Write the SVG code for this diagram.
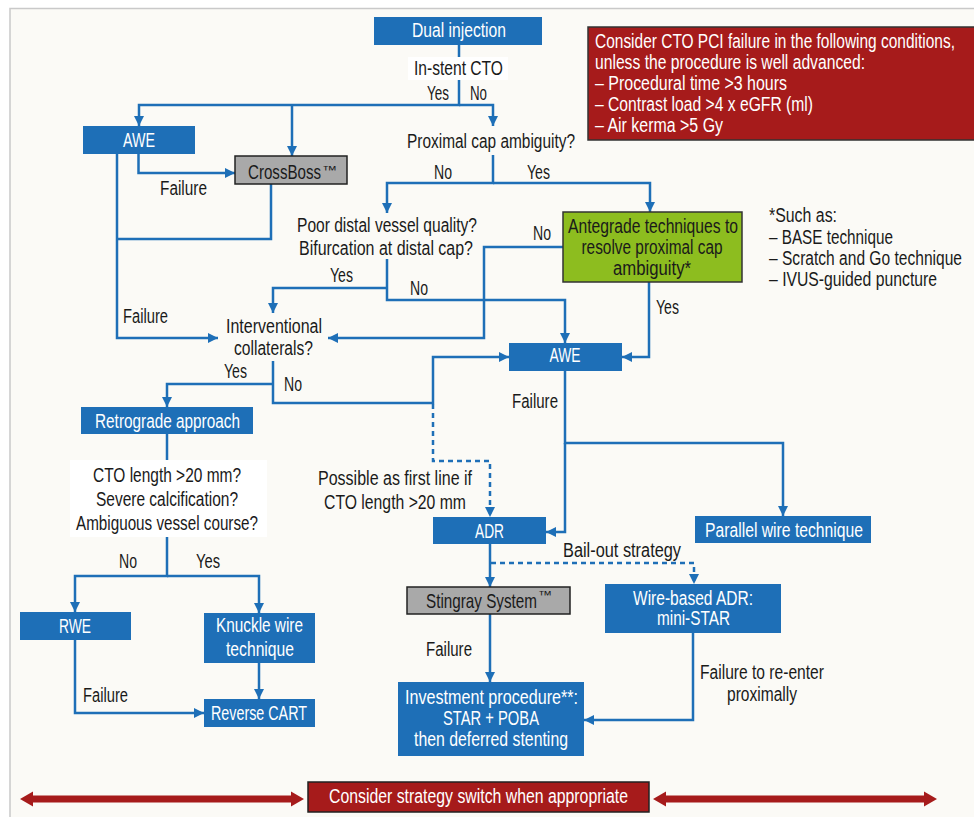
<svg xmlns="http://www.w3.org/2000/svg" width="974" height="817" viewBox="0 0 974 817">
<defs>
<style>
text{font-family:"Liberation Sans",Arial,sans-serif;font-size:20px;fill:#1a1a1a}
.w{fill:#fff}
.c{text-anchor:middle}
.blue{fill:#1e6fb7}
.gray{fill:#a9a9a9;stroke:#222;stroke-width:1.5}
.con path{fill:none;stroke:#1e6fb7;stroke-width:2.5}
.con path.d{stroke-dasharray:5,4}
.tm{font-size:12px}
</style>
<marker id="ah" viewBox="0 0 10 10" refX="10" refY="5" markerWidth="10" markerHeight="10" markerUnits="userSpaceOnUse" orient="auto">
<path d="M0,0 L10,5 L0,10 z" fill="#1e6fb7"/>
</marker>
</defs>
<rect x="0" y="0" width="974" height="817" fill="#fff"/>
<rect x="10" y="8.5" width="990" height="830" fill="#fbfaf6" stroke="#c9c9c9" stroke-width="1.5"/>

<g id="connectors" class="con">
<path d="M459,45 V57"/>
<path d="M459,80 V105 H139 V126" marker-end="url(#ah)"/>
<path d="M459,105 H493 V126" marker-end="url(#ah)"/>
<path d="M292,105 V156" marker-end="url(#ah)"/>
<path d="M138.5,154 V173 H235" marker-end="url(#ah)"/>
<path d="M117,154 V338 H218" marker-end="url(#ah)"/>
<path d="M271,184 V239 H117"/>
<path d="M493,155 V183 H387 V213" marker-end="url(#ah)"/>
<path d="M493,183 H650 V212" marker-end="url(#ah)"/>
<path d="M563,247 H484 V338 H328" marker-end="url(#ah)"/>
<path d="M649,282 V357 H622" marker-end="url(#ah)"/>
<path d="M387,259 V300 H565 V343" marker-end="url(#ah)"/>
<path d="M387,288 H273 V313" marker-end="url(#ah)"/>
<path d="M273,361 V403 H433 V357 H509" marker-end="url(#ah)"/>
<path d="M273,384 H167 V407" marker-end="url(#ah)"/>
<path class="d" d="M433,404 V461 H490 V517" marker-end="url(#ah)"/>
<path d="M565,371 V443 H783 V516" marker-end="url(#ah)"/>
<path d="M565,443 V532 H546" marker-end="url(#ah)"/>
<path d="M490,544 V587" marker-end="url(#ah)"/>
<path class="d" d="M491,563 H694 V584" marker-end="url(#ah)"/>
<path d="M490,614 V682" marker-end="url(#ah)"/>
<path d="M693,633 V720 H584" marker-end="url(#ah)"/>
<path d="M167,434 V460"/>
<path d="M167,537 V576 H75 V612" marker-end="url(#ah)"/>
<path d="M167,576 H259 V613" marker-end="url(#ah)"/>
<path d="M259,663 V699" marker-end="url(#ah)"/>
<path d="M75,640 V713 H204" marker-end="url(#ah)"/>
</g>

<g id="labels">
<text x="427" y="100" textLength="22" lengthAdjust="spacingAndGlyphs">Yes</text>
<text x="470" y="100" textLength="17" lengthAdjust="spacingAndGlyphs">No</text>
<text x="160" y="195" textLength="47" lengthAdjust="spacingAndGlyphs">Failure</text>
<text x="434" y="179" textLength="18" lengthAdjust="spacingAndGlyphs">No</text>
<text x="527" y="179" textLength="23" lengthAdjust="spacingAndGlyphs">Yes</text>
<text x="533" y="240" textLength="18" lengthAdjust="spacingAndGlyphs">No</text>
<text x="656" y="314" textLength="23" lengthAdjust="spacingAndGlyphs">Yes</text>
<text x="330" y="282" textLength="23" lengthAdjust="spacingAndGlyphs">Yes</text>
<text x="410" y="295" textLength="18" lengthAdjust="spacingAndGlyphs">No</text>
<text x="123" y="323" textLength="45" lengthAdjust="spacingAndGlyphs">Failure</text>
<text x="224" y="378" textLength="23" lengthAdjust="spacingAndGlyphs">Yes</text>
<text x="284" y="391" textLength="18" lengthAdjust="spacingAndGlyphs">No</text>
<text x="512" y="408" textLength="46" lengthAdjust="spacingAndGlyphs">Failure</text>
<text x="119" y="568" textLength="18" lengthAdjust="spacingAndGlyphs">No</text>
<text x="196" y="568" textLength="24" lengthAdjust="spacingAndGlyphs">Yes</text>
<text x="83" y="702" textLength="45" lengthAdjust="spacingAndGlyphs">Failure</text>
<text class="c" x="395" y="485" textLength="154" lengthAdjust="spacingAndGlyphs">Possible as first line if</text>
<text class="c" x="395" y="509" textLength="142" lengthAdjust="spacingAndGlyphs">CTO length &gt;20 mm</text>
<text x="563" y="557" textLength="118" lengthAdjust="spacingAndGlyphs">Bail-out strategy</text>
<text x="426" y="656" textLength="46" lengthAdjust="spacingAndGlyphs">Failure</text>
<text class="c" x="762" y="679" textLength="124" lengthAdjust="spacingAndGlyphs">Failure to re-enter</text>
<text class="c" x="762" y="701" textLength="70" lengthAdjust="spacingAndGlyphs">proximally</text>
</g>

<g id="dual-injection">
<rect class="blue" x="374" y="17" width="168" height="28"/>
<text class="w c" x="459" y="37" textLength="94" lengthAdjust="spacingAndGlyphs">Dual injection</text>
</g>
<g id="in-stent-cto">
<rect x="408" y="57" width="100" height="23" fill="#fff"/>
<text class="c" x="458.5" y="75" textLength="89" lengthAdjust="spacingAndGlyphs">In-stent CTO</text>
</g>
<g id="failure-conditions">
<rect x="588" y="27" width="400" height="113" fill="#a61b1b" stroke="#333" stroke-width="1.5"/>
<text class="w" transform="translate(595,48) scale(0.77,1)" x="0" y="0" textLength="467.5" lengthAdjust="spacingAndGlyphs">Consider CTO PCI failure in the following conditions,</text>
<text class="w" x="595" y="69" textLength="270" lengthAdjust="spacingAndGlyphs">unless the procedure is well advanced:</text>
<text class="w" x="595" y="90" textLength="192" lengthAdjust="spacingAndGlyphs">– Procedural time &gt;3 hours</text>
<text class="w" x="595" y="111" textLength="218" lengthAdjust="spacingAndGlyphs">– Contrast load &gt;4 x eGFR (ml)</text>
<text class="w" x="595" y="132" textLength="128" lengthAdjust="spacingAndGlyphs">– Air kerma &gt;5 Gy</text>
</g>
<g id="awe-1">
<rect class="blue" x="83" y="126" width="112" height="28"/>
<text class="w c" x="139" y="146.5" textLength="32" lengthAdjust="spacingAndGlyphs">AWE</text>
</g>
<g id="crossboss">
<rect class="gray" x="235" y="156" width="112" height="28"/>
<text transform="translate(248,179) scale(0.72,1)" x="0" y="0" textLength="101.4" lengthAdjust="spacingAndGlyphs">CrossBoss</text>
<text class="tm" x="322" y="174" textLength="15" lengthAdjust="spacingAndGlyphs">™</text>
</g>
<g id="proximal-cap">
<text class="c" x="491" y="147.5" textLength="168" lengthAdjust="spacingAndGlyphs">Proximal cap ambiguity?</text>
</g>
<g id="antegrade-techniques">
<rect x="563" y="212" width="179" height="70" fill="#8dbd1f" stroke="#333" stroke-width="1.5"/>
<text class="c" x="653" y="233" textLength="170" lengthAdjust="spacingAndGlyphs">Antegrade techniques to</text>
<text class="c" x="652" y="254" textLength="141" lengthAdjust="spacingAndGlyphs">resolve proximal cap</text>
<text class="c" x="652" y="275" textLength="78" lengthAdjust="spacingAndGlyphs">ambiguity*</text>
</g>
<g id="such-as">
<text x="769" y="222" textLength="68" lengthAdjust="spacingAndGlyphs">*Such as:</text>
<text x="769" y="243.5" textLength="124" lengthAdjust="spacingAndGlyphs">– BASE technique</text>
<text transform="translate(769,264.5) scale(0.77,1)" x="0" y="0" textLength="250.6" lengthAdjust="spacingAndGlyphs">– Scratch and Go technique</text>
<text transform="translate(769,285.5) scale(0.77,1)" x="0" y="0" textLength="218.2" lengthAdjust="spacingAndGlyphs">– IVUS-guided puncture</text>
</g>
<g id="poor-distal">
<text class="c" x="387" y="232" textLength="180" lengthAdjust="spacingAndGlyphs">Poor distal vessel quality?</text>
<text class="c" x="386" y="255" textLength="174" lengthAdjust="spacingAndGlyphs">Bifurcation at distal cap?</text>
</g>
<g id="interventional-collaterals">
<text class="c" x="274" y="333" textLength="96" lengthAdjust="spacingAndGlyphs">Interventional</text>
<text class="c" x="273.5" y="355" textLength="79" lengthAdjust="spacingAndGlyphs">collaterals?</text>
</g>
<g id="awe-2">
<rect class="blue" x="509" y="343" width="113" height="28"/>
<text class="w c" x="565" y="361.5" textLength="31" lengthAdjust="spacingAndGlyphs">AWE</text>
</g>
<g id="retrograde">
<rect class="blue" x="81" y="407" width="172" height="27"/>
<text class="w c" x="167.5" y="428" textLength="145" lengthAdjust="spacingAndGlyphs">Retrograde approach</text>
</g>
<g id="cto-length-question">
<rect x="70" y="460" width="197" height="77" fill="#fff"/>
<text class="c" x="167" y="481.5" textLength="148" lengthAdjust="spacingAndGlyphs">CTO length &gt;20 mm?</text>
<text class="c" x="167" y="505.5" textLength="142" lengthAdjust="spacingAndGlyphs">Severe calcification?</text>
<text class="c" x="167" y="529.5" textLength="182" lengthAdjust="spacingAndGlyphs">Ambiguous vessel course?</text>
</g>
<g id="rwe">
<rect class="blue" x="20" y="612" width="111" height="28"/>
<text class="w c" x="75" y="632.5" textLength="32" lengthAdjust="spacingAndGlyphs">RWE</text>
</g>
<g id="knuckle-wire">
<rect class="blue" x="204" y="613" width="111" height="50"/>
<text class="w c" x="259.5" y="632" textLength="87" lengthAdjust="spacingAndGlyphs">Knuckle wire</text>
<text class="w c" x="260" y="656" textLength="68" lengthAdjust="spacingAndGlyphs">technique</text>
</g>
<g id="reverse-cart">
<rect class="blue" x="204" y="699" width="111" height="28"/>
<text class="w c" x="259" y="720" textLength="96" lengthAdjust="spacingAndGlyphs">Reverse CART</text>
</g>
<g id="adr">
<rect class="blue" x="433" y="517" width="113" height="27"/>
<text class="w c" x="489.5" y="537.5" textLength="29" lengthAdjust="spacingAndGlyphs">ADR</text>
</g>
<g id="parallel-wire">
<rect class="blue" x="695" y="516" width="176" height="27"/>
<text class="w c" x="784" y="536.5" textLength="158" lengthAdjust="spacingAndGlyphs">Parallel wire technique</text>
</g>
<g id="stingray">
<rect class="gray" x="407" y="587" width="163" height="27"/>
<text transform="translate(426,607.5) scale(0.72,1)" x="0" y="0" textLength="154.2" lengthAdjust="spacingAndGlyphs">Stingray System</text>
<text class="tm" x="538" y="599" textLength="14" lengthAdjust="spacingAndGlyphs">™</text>
</g>
<g id="wire-based-adr">
<rect class="blue" x="605" y="584" width="176" height="49"/>
<text class="w c" x="693" y="605" textLength="120" lengthAdjust="spacingAndGlyphs">Wire-based ADR:</text>
<text class="w c" x="693.5" y="625" textLength="73" lengthAdjust="spacingAndGlyphs">mini-STAR</text>
</g>
<g id="investment-procedure">
<rect class="blue" x="398" y="682" width="186" height="74"/>
<text class="w c" x="491.5" y="704" textLength="173" lengthAdjust="spacingAndGlyphs">Investment procedure**:</text>
<text class="w c" x="491" y="725" textLength="96" lengthAdjust="spacingAndGlyphs">STAR + POBA</text>
<text class="w c" x="491" y="746" textLength="154" lengthAdjust="spacingAndGlyphs">then deferred stenting</text>
</g>
<g id="strategy-switch">
<polygon points="20,799 33,791.5 33,795.5 291,795.5 291,791.5 304,799 291,806.5 291,802.5 33,802.5 33,806.5" fill="#a61b1b"/>
<polygon points="653,799 666,791.5 666,795.5 924,795.5 924,791.5 937,799 924,806.5 924,802.5 666,802.5 666,806.5" fill="#a61b1b"/>
<rect x="308" y="782" width="341" height="30" fill="#a61b1b" stroke="#222" stroke-width="1.5"/>
<text class="w c" x="478.5" y="803" textLength="299" lengthAdjust="spacingAndGlyphs">Consider strategy switch when appropriate</text>
</g>
</svg>
